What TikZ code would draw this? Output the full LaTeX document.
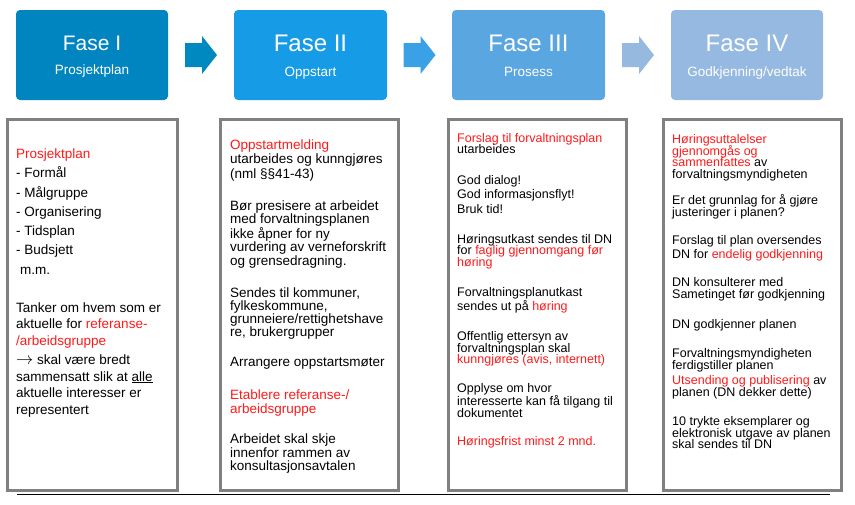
\documentclass[tikz,border=0pt]{standalone}
\usepackage{fontspec}
\setmainfont{Liberation Sans}
\usetikzlibrary{shadows}

\definecolor{fase1}{HTML}{0085C0}
\definecolor{fase2}{HTML}{169BE6}
\definecolor{fase3}{HTML}{5AA6E0}
\definecolor{fase4}{HTML}{95B9E0}
\definecolor{pil1}{HTML}{0088C1}
\definecolor{pil2}{HTML}{3BA1E6}
\definecolor{pil3}{HTML}{95B9DF}
\definecolor{rammegraa}{HTML}{808080}
\definecolor{rod}{HTML}{FF1A1A}

\newcommand{\rod}[1]{\textcolor{rod}{#1}}
\newcommand{\tett}{\lineskiplimit=-100pt\relax}
%% blokkpil mellom to faser
\newcommand{\blokkpil}[3]{%
	\path (#2.east) -- coordinate[midway] (m#2) (#3.west);
	\fill[#1] (m#2) ++(-16,-12) -- ++(17,0) -- ++(0,-7) -- ++(15,19) -- ++(-15,19) -- ++(0,-7) -- ++(-17,0) -- cycle;}

\tikzset{
	fase/.style={rounded corners=4pt, minimum width=152pt, minimum height=90pt, inner sep=0pt},
	tittel/.style={text=white, inner sep=0pt, font=\fontsize{24}{28}\selectfont},
	undertittel/.style={text=white, inner sep=0pt, anchor=base, font=\fontsize{13.5}{16}\selectfont},
	ramme/.style={draw=rammegraa, line width=3pt, fill=white, drop shadow={shadow xshift=1.5pt, shadow yshift=-1.5pt, opacity=0.35}},
	tekst/.style={anchor=north west, align=left, inner sep=0pt}
}

\begin{document}
\begin{tikzpicture}[x=1pt, y=-1pt]
\useasboundingbox (0,0) rectangle (855,504);

%% Faser
\node[fase, fill=fase1] (f1) at (92,55) {};
\node[fase, fill=fase2, minimum width=153pt] (f2) at (310.5,55) {};
\node[fase, fill=fase3, minimum width=153pt] (f3) at (528.5,55) {};
\node[fase, fill=fase4] (f4) at (747,55) {};

\node[tittel, font=\fontsize{21}{25}\selectfont] (t1) at ([yshift=12pt]f1.center) {Fase I};
\node[tittel] (t2) at ([yshift=12pt]f2.center) {Fase II};
\node[tittel] (t3) at ([yshift=12pt]f3.center) {Fase III};
\node[tittel] (t4) at ([yshift=12pt]f4.center) {Fase IV};

\node[undertittel] (s1) at ([yshift=-19.5pt]f1.center) {Prosjektplan};
\node[undertittel] (s2) at ([yshift=-21pt]f2.center) {Oppstart};
\node[undertittel] (s3) at ([yshift=-21pt]f3.center) {Prosess};
\node[undertittel] (s4) at ([yshift=-21pt]f4.center) {Godkjenning/vedtak};

\blokkpil{pil1}{f1}{f2}
\blokkpil{pil2}{f2}{f3}
\blokkpil{pil3}{f3}{f4}

%% Rammer
\draw[black, line width=0.8pt] (17,494) -- (830,494);
\draw[ramme] (7.5,119.5) rectangle (177.5,490.5);
\draw[ramme] (220.5,119.5) rectangle (398.5,490.5);
\draw[ramme] (448.5,119.5) rectangle (626.5,490.5);
\draw[ramme] (663.5,119.5) rectangle (841.5,490.5);

%% Fase I
\node[tekst, font=\fontsize{13.5}{16.7}\selectfont] (k1) at (16,148.5) {%
	\rod{Prosjektplan}\\[2.6pt]
	- Formål\\[2.6pt]
	- Målgruppe\\[2.6pt]
	- Organisering\\[2.6pt]
	- Tidsplan\\[2.6pt]
	- Budsjett\\[2.6pt]
	\hspace{4pt}m.m.\\[21.3pt]
	Tanker om hvem som er\\
	aktuelle for \rod{referanse-}\\
	\rod{/arbeidsgruppe}\\[2pt]
	{\fontsize{16}{16}\selectfont$\rightarrow$} skal være bredt\\
	sammensatt slik at \underline{alle}\\
	aktuelle interesser er\\
	representert};

%% Fase II
\node[tekst, font=\fontsize{13.5}{13.3}\selectfont] (k2) at (230,139.5) {%
	\rod{Oppstartmelding}\\[1.2pt]
	utarbeides og kunngjøres\\[1.2pt]
	(nml §§41-43)\\[18.7pt]
	Bør presisere at arbeidet\\
	med forvaltningsplanen\\
	ikke åpner for ny\\
	vurdering av verneforskrift\\
	og grensedragning.\\[18.7pt]
	Sendes til kommuner,\\
	fylkeskommune,\\
	grunneiere/rettighetshave\\
	re, brukergrupper\\[16.7pt]
	Arrangere oppstartsmøter\\[19.7pt]
	\rod{Etablere referanse-/}\\
	\rod{arbeidsgruppe}\\[17.3pt]
	Arbeidet skal skje\\
	innenfor rammen av\\
	konsultasjonsavtalen};

%% Fase III
\node[tekst, font=\fontsize{12.5}{11.7}\selectfont] (k3) at (457,133) {%
	\rod{Forslag til forvaltningsplan}\\
	utarbeides\\[18.6pt]
	God dialog!\\[2.3pt]
	God informasjonsflyt!\\[3.3pt]
	Bruk tid!\\[18.3pt]
	Høringsutkast sendes til DN\\
	for \rod{faglig gjennomgang før}\\
	\rod{høring}\\[18.3pt]
	Forvaltningsplanutkast\\
	sendes ut på \rod{høring}\\[18.3pt]
	Offentlig ettersyn av\\
	forvaltningsplan skal\\
	\rod{kunngjøres (avis, internett)}\\[16.8pt]
	Opplyse om hvor\\
	interesserte kan få tilgang til\\
	dokumentet\\[16.3pt]
	\rod{Høringsfrist minst 2 mnd.}};

%% Fase IV
\node[tekst, font=\fontsize{12.5}{11.5}\selectfont\tett] (k4) at (672,134.4) {%
	\rod{Høringsuttalelser}\\
	\rod{gjennomgås og}\\
	\rod{sammenfattes} av\\
	forvaltningsmyndigheten\\[15pt]
	Er det grunnlag for å gjøre\\
	justeringer i planen?\\[17pt]
	Forslag til plan oversendes\\[2.5pt]
	DN for \rod{endelig godkjenning}\\[16.5pt]
	DN konsulterer med\\
	Sametinget før godkjenning\\[19pt]
	DN godkjenner planen\\[17.5pt]
	Forvaltningsmyndigheten\\
	ferdigstiller planen\\[4pt]
	\rod{Utsending og publisering} av\\
	planen (DN dekker dette)\\[18pt]
	10 trykte eksemplarer og\\
	elektronisk utgave av planen\\
	skal sendes til DN};

\end{tikzpicture}
\end{document}
